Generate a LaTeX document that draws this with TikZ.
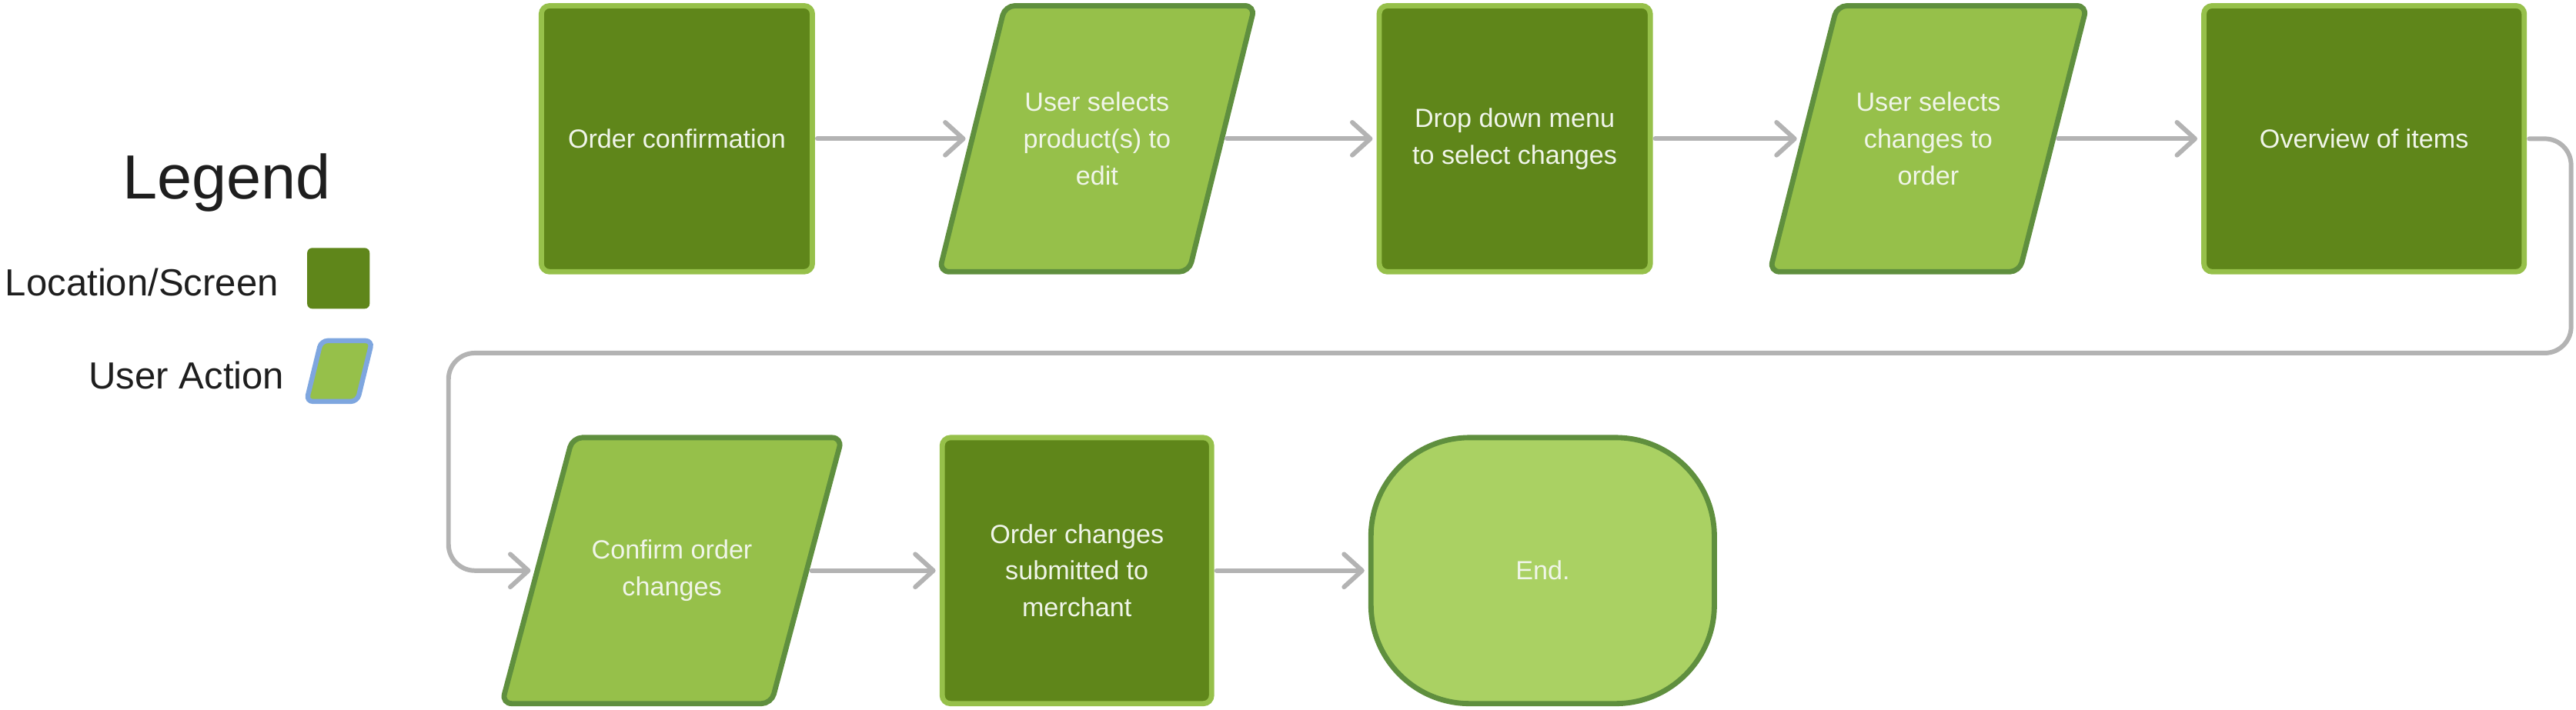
\documentclass[tikz,border=0pt]{standalone}
\usepackage{fontspec}
\setmainfont{Liberation Sans}
\usetikzlibrary{arrows.meta,backgrounds}
\definecolor{dkgreen}{HTML}{5F861A}
\definecolor{ltgreen}{HTML}{96C04A}
\definecolor{edgegreen}{HTML}{5F8F3E}
\definecolor{endgreen}{HTML}{AAD163}
\definecolor{conngray}{HTML}{B3B3B3}
\definecolor{legblue}{HTML}{7EA6DF}
\definecolor{boxtext}{HTML}{F0F5E9}
\definecolor{legtext}{HTML}{1E1E1E}
\newcommand\actpara[3][actshape]{\draw[#1] ([xshift=-#3]#2.south west) -- ([xshift=-#3]#2.south east) -- ([xshift=#3]#2.north east) -- ([xshift=#3]#2.north west) -- cycle;}
\begin{document}
\begin{tikzpicture}[x=1pt,y=1pt,
  boxtxt/.style={font=\fontsize{16}{22.3}\selectfont, text=boxtext, align=center, inner sep=0pt, outer sep=0pt},
  screen/.style={boxtxt, rectangle, draw=ltgreen, fill=dkgreen, line width=3.2pt, rounded corners=5pt, minimum height=162pt},
  action/.style={boxtxt, rectangle, minimum height=162pt},
  actshape/.style={draw=edgegreen, fill=ltgreen, line width=3.2pt, rounded corners=6pt},
  legshape/.style={draw=legblue, fill=ltgreen, line width=3pt, rounded corners=4pt},
  endbox/.style={boxtxt, draw=edgegreen, fill=endgreen, line width=3.2pt, rounded corners=60pt, minimum height=162pt, minimum width=209pt},
  conn/.style={draw=conngray, line width=2.8pt, line cap=round, line join=round, -{Straight Barb[length=11pt,width=20pt,round]}, shorten <=3pt, shorten >=4pt},
  legtxt/.style={text=legtext, inner sep=0pt, outer sep=0pt}
]
\useasboundingbox (0,0) rectangle (1568,-432);

% Legend
\node[legtxt, font=\fontsize{38}{40}\selectfont, anchor=base] (leg) at (138,-121) {Legend};
\node[legtxt, font=\fontsize{23}{26}\selectfont, anchor=base east] (l1) at (169.5,-180) {Location/Screen};
\node[legtxt, font=\fontsize{23}{26}\selectfont, anchor=base east] (l2) at (173,-237) {User Action};
\node[fill=dkgreen, rounded corners=3pt, minimum width=38pt, minimum height=37pt, inner sep=0pt] (ls) at (206,-169.5) {};
\node[minimum width=31pt, minimum height=37pt, inner sep=0pt, outer sep=0pt] (la) at (206.5,-226) {};

% Row 1
\node[screen, minimum width=165pt] (n1) at (412,-84.5) {Order confirmation};
\node[action, minimum width=152pt] (n2) at (667.75,-84.5) {User selects\\product(s) to\\edit};
\node[screen, minimum width=165pt] (n3) at (922,-84.5) {Drop down menu\\to select changes};
\node[action, minimum width=152pt] (n4) at (1173.75,-84.5) {User selects\\changes to\\order};
\node[screen, minimum width=195pt] (n5) at (1439,-84.5) {Overview of items};

% Row 2
\node[action, minimum width=164pt] (n6) at (409,-347.5) {Confirm order\\changes};
\node[screen, minimum width=164pt] (n7) at (655.5,-347.5) {Order changes\\submitted to\\merchant};
\node[endbox] (n8) at (939,-347.5) {End.};

\begin{scope}[on background layer]
  \actpara{n2}{20pt}
  \actpara{n4}{20.5pt}
  \actpara{n6}{21.5pt}
  \actpara[legshape]{la}{4.5pt}
\end{scope}

% Connectors
\draw[conn] (n1.east) -- (n2.west);
\draw[conn] (n2.east) -- (n3.west);
\draw[conn] (n3.east) -- (n4.west);
\draw[conn] (n4.east) -- (n5.west);
\coordinate (r1) at (1565,-215);
\coordinate (r2) at (273,-215);
\draw[conn, rounded corners=16pt] (n5.east) -| (r1) -- (r2) |- (n6.west);
\draw[conn] (n6.east) -- (n7.west);
\draw[conn] (n7.east) -- (n8.west);
\end{tikzpicture}
\end{document}
